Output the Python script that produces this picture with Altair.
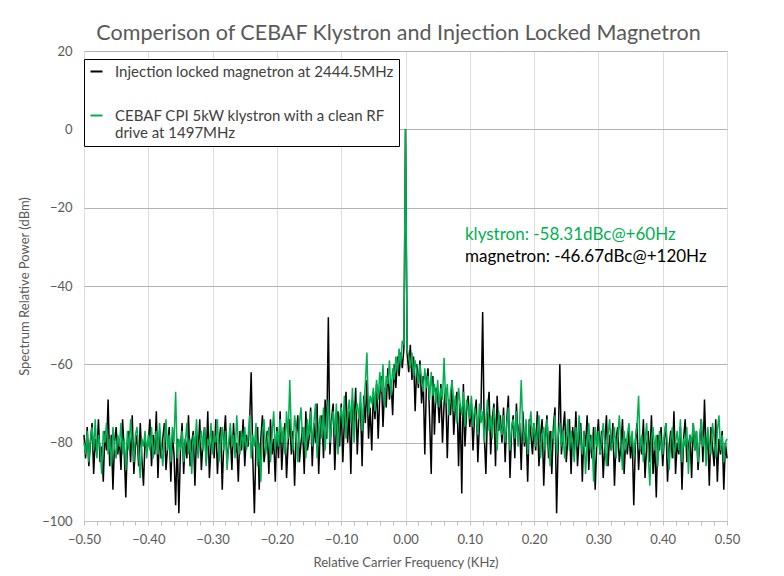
import altair as alt
import numpy as np
import pandas as pd

# ---- data (dB, one value every 2.5 Hz from -500 Hz to +500 Hz) ----
magnetron = [
    -78, -84, -76, -86, -80, -75, -88, -79, -83, -74, -85, -81, -90, -77, -82, -69, -86, -78, -92, -80,
    -76, -83, -79, -87, -74, -82, -94, -80, -77, -85, -73, -88, -81, -78, -86, -75, -84, -91, -79, -82,
    -80, -74, -86, -78, -83, -72, -89, -77, -84, -79, -75, -87, -81, -76, -90, -78, -83, -96, -79, -98,
    -82, -75, -88, -79, -84, -73, -86, -80, -77, -91, -78, -83, -74, -87, -80, -76, -85, -72, -89, -81,
    -77, -84, -74, -88, -80, -76, -92, -79, -73, -85, -81, -78, -87, -75, -83, -80, -90, -77, -82, -74,
    -86, -78, -81, -75, -62, -84, -98, -80, -76, -92, -79, -73, -85, -81, -77, -88, -74, -83, -79, -90,
    -76, -84, -72, -87, -79, -75, -89, -80, -74, -83, -77, -91, -78, -73, -85, -80, -76, -88, -72, -82,
    -79, -71, -86, -75, -80, -70, -88, -76, -73, -84, -69, -79, -48, -83, -74, -70, -87, -76, -72, -81,
    -70, -85, -74, -67, -80, -72, -88, -69, -76, -66, -83, -73, -70, -86, -68, -75, -64, -79, -71, -82,
    -67, -74, -65, -79, -68, -63, -76, -66, -71, -61, -69, -64, -73, -60, -66, -58, -63, -57, -61, -56,
    0, -57, -62, -55, -64, -58, -72, -60, -66, -59, -70, -63, -83, -65, -61, -74, -88, -63, -78, -66,
    -68, -75, -65, -80, -70, -66, -84, -69, -73, -64, -78, -71, -67, -86, -70, -93, -65, -81, -72, -68,
    -76, -70, -82, -73, -69, -85, -75, -71, -46.67, -78, -88, -72, -67, -83, -74, -70, -86, -68, -77, -73,
    -80, -71, -85, -74, -68, -89, -77, -73, -84, -70, -79, -75, -87, -72, -81, -76, -90, -74, -78, -83,
    -75, -82, -72, -86, -78, -74, -91, -79, -73, -84, -77, -88, -76, -71, -98, -80, -60, -83, -77, -72,
    -85, -79, -74, -88, -76, -82, -72, -86, -79, -75, -90, -77, -81, -73, -87, -78, -84, -76, -92, -80,
    -74, -83, -77, -89, -80, -73, -86, -78, -82, -75, -91, -79, -76, -85, -81, -74, -88, -79, -83, -77,
    -84, -78, -96, -80, -75, -87, -79, -83, -74, -89, -81, -77, -85, -73, -88, -80, -94, -78, -82, -76,
    -86, -79, -75, -90, -81, -77, -84, -72, -88, -80, -83, -76, -92, -79, -74, -85, -81, -78, -89, -75,
    -82, -77, -87, -80, -74, -85, -69, -83, -78, -91, -76, -81, -86, -74, -90, -79, -83, -77, -92, -80,
    -84,
]

klystron = [
    -80, -83, -77, -85, -79, -76, -82, -74, -84, -78, -81, -88, -77, -80, -75, -83, -79, -86, -76, -81,
    -84, -78, -81, -75, -83, -79, -87, -77, -82, -74, -80, -85, -78, -76, -83, -89, -79, -81, -77, -84,
    -78, -82, -76, -84, -80, -77, -83, -75, -81, -86, -79, -74, -82, -78, -85, -76, -80, -67, -84, -79,
    -82, -77, -85, -80, -75, -83, -79, -88, -78, -81, -74, -84, -80, -77, -82, -76, -86, -79, -81, -75,
    -83, -78, -80, -74, -85, -79, -76, -82, -77, -87, -80, -75, -81, -78, -84, -73, -80, -83, -77, -81,
    -76, -82, -79, -73, -84, -78, -81, -75, -86, -80, -90, -77, -74, -83, -79, -76, -85, -78, -72, -82,
    -77, -81, -74, -80, -76, -83, -72, -79, -64, -78, -82, -73, -77, -85, -75, -71, -80, -76, -84, -74,
    -78, -72, -81, -75, -70, -84, -76, -73, -79, -71, -82, -74, -69, -80, -75, -72, -78, -70, -83, -74,
    -71, -76, -68, -79, -73, -69, -75, -66, -80, -72, -70, -74, -67, -77, -71, -65, -57, -73, -68, -70,
    -66, -72, -64, -69, -62, -67, -60, -71, -63, -65, -59, -68, -61, -64, -58, -62, -56, -60, -54, -55,
    0, -56, -58, -61, -57, -63, -59, -62, -65, -60, -64, -67, -61, -66, -63, -69, -62, -68, -65, -70,
    -64, -71, -66, -69, -58.31, -70, -65, -73, -67, -64, -72, -68, -75, -66, -70, -73, -67, -76, -69, -71,
    -74, -68, -76, -71, -73, -78, -70, -75, -72, -80, -74, -69, -77, -73, -79, -71, -75, -82, -72, -76,
    -78, -73, -80, -75, -71, -82, -76, -74, -79, -72, -81, -75, -64, -77, -80, -74, -83, -76, -72, -79,
    -75, -81, -77, -73, -84, -78, -76, -82, -74, -80, -86, -77, -79, -73, -83, -78, -75, -81, -77, -84,
    -79, -74, -82, -77, -80, -85, -76, -81, -73, -79, -83, -77, -88, -80, -75, -82, -78, -90, -76, -81,
    -77, -83, -79, -75, -81, -86, -78, -74, -82, -80, -76, -84, -79, -73, -80, -87, -77, -82, -78, -75,
    -81, -77, -84, -79, -76, -68, -82, -78, -85, -80, -75, -83, -91, -79, -76, -82, -78, -86, -77, -80,
    -83, -78, -75, -81, -87, -79, -76, -84, -80, -77, -82, -74, -85, -79, -81, -76, -88, -78, -80, -75,
    -82, -77, -85, -79, -74, -81, -78, -86, -76, -80, -83, -75, -79, -84, -77, -73, -82, -78, -85, -80,
    -79,
]

series_names = [
    "Injection locked magnetron at 2444.5MHz",
    "CEBAF CPI 5kW klystron with a clean RF drive at 1497MHz",
]
series_colors = ["#000000", "#00B050"]

y_ticks = [-100, -80, -60, -40, -20, 0, 20]
x_ticks = [round(-0.5 + 0.02 * i, 2) for i in range(51)]

ann_text = ["klystron: -58.31dBc@+60Hz", "magnetron: -46.67dBc@+120Hz"]
ann_x = [0.0925, 0.0925]
ann_y = [-27.0, -32.6]
ann_color = ["#00B050", "#000000"]

assert len(magnetron) == 401 and len(klystron) == 401
freq = [round(-0.5 + 0.0025 * i, 4) for i in range(401)]

df = pd.DataFrame({
    "freq": freq + freq,
    "power": magnetron + klystron,
    "series": [series_names[0]] * 401 + [series_names[1]] * 401,
})
ann = pd.DataFrame({"text": ann_text, "x": ann_x, "y": ann_y, "c": ann_color})

FONT = "Lato"
major_test = "abs(datum.value*10 - round(datum.value*10)) < 0.001"

x_scale = alt.Scale(domain=[-0.5, 0.5], nice=False, zero=False)
y_scale = alt.Scale(domain=[-100, 20], nice=False, zero=False)

x_enc = alt.X(
    "freq:Q", scale=x_scale,
    title="Relative Carrier Frequency (KHz)",
    axis=alt.Axis(
        values=x_ticks, tickCount=60,
        labelExpr=f"{major_test} ? format(datum.value, '.2f') : ''",
        labelOverlap=False, labelFlush=False,
        gridColor="#dedede",
        gridOpacity={"condition": {"test": major_test, "value": 1}, "value": 0},
        tickSize=4, tickColor="#bfbfbf", domainColor="#bfbfbf",
        labelPadding=8, titlePadding=10,
        labelFont=FONT, labelFontSize=13, labelColor="#595959",
        titleFont=FONT, titleFontSize=13, titleColor="#595959", titleFontWeight="normal",
    ),
)
y_enc = alt.Y(
    "power:Q", scale=y_scale,
    title="Spectrum Relative Power (dBm)",
    axis=alt.Axis(
        values=y_ticks, tickCount=10, ticks=False, domain=False,
        gridColor="#b4b4b4", labelPadding=12, labelFlush=False,
        titlePadding=10,
        labelFont=FONT, labelFontSize=13, labelColor="#595959",
        titleFont=FONT, titleFontSize=13, titleColor="#595959", titleFontWeight="normal",
    ),
)

color_enc = alt.Color(
    "series:N",
    scale=alt.Scale(domain=series_names, range=series_colors),
    legend=alt.Legend(
        orient="none", legendX=0, legendY=8, title=None,
        strokeColor="#000000", fillColor="#ffffff", padding=5,
        symbolType="stroke", symbolSize=144, symbolStrokeWidth=2,
        labelFont=FONT, labelFontSize=15, labelColor="#404040",
        labelLimit=400, labelOffset=11, rowPadding=28,
        labelExpr=(
            "datum.label == '" + series_names[1] + "' ? "
            "['CEBAF CPI 5kW klystron with a clean RF', 'drive at 1497MHz'] : datum.label"
        ),
    ),
)

base = alt.Chart(df)
line_mag = base.transform_filter(alt.datum.series == series_names[0]).mark_line(
    strokeWidth=1.5).encode(x=x_enc, y=y_enc, color=color_enc)
line_kly = base.transform_filter(alt.datum.series == series_names[1]).mark_line(
    strokeWidth=1.5).encode(x=x_enc, y=y_enc, color=color_enc)

texts = alt.Chart(ann).mark_text(
    align="left", baseline="middle", font=FONT, fontSize=17
).encode(
    x=alt.X("x:Q", scale=x_scale),
    y=alt.Y("y:Q", scale=y_scale),
    text="text:N",
    color=alt.Color("c:N", scale=None),
)

chart = alt.layer(line_mag, line_kly, texts).properties(
    width=643, height=470,
    title=alt.TitleParams(
        "Comperison of CEBAF Klystron and Injection Locked Magnetron",
        font=FONT, fontSize=21.5, fontWeight="normal", color="#595959",
        anchor="middle", dx=-7, offset=1,
    ),
    autosize=alt.AutoSizeParams(type="none"),
    padding={"left": 76, "top": 43, "right": 49, "bottom": 53},
).configure_view(stroke=None).configure(background="#ffffff")

chart.save("out.html", embed_options={"renderer": "svg", "actions": False})
